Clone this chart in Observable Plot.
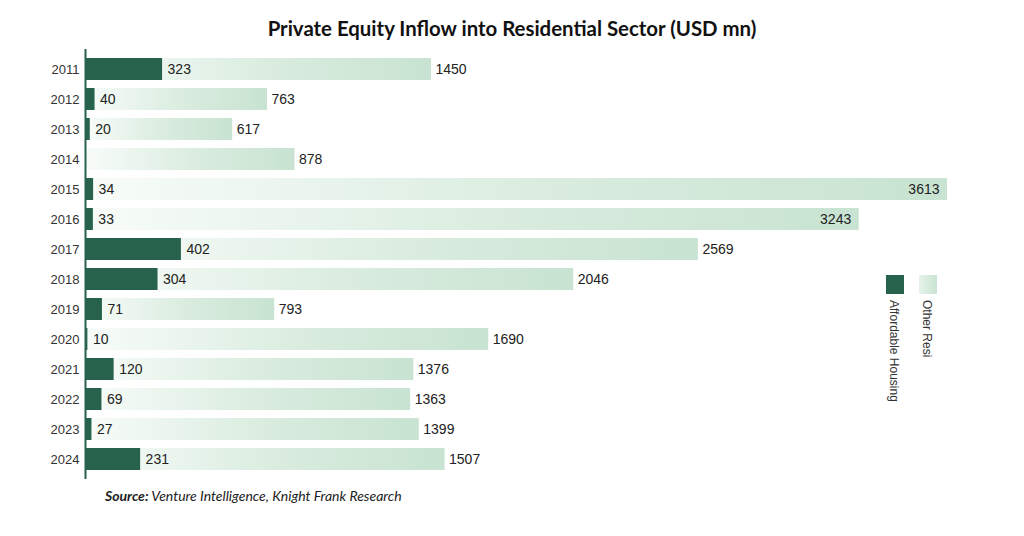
<!DOCTYPE html>
<html>
<head>
<meta charset="utf-8">
<script src="https://cdn.jsdelivr.net/npm/d3@7"></script>
<script src="https://cdn.jsdelivr.net/npm/@observablehq/plot@0.6"></script>
<style>
  html, body { margin: 0; padding: 0; background: #fff; }
  #wrap { position: relative; width: 1024px; height: 536px; overflow: hidden; }
  #title { position: absolute; left: 0; top: 16px; width: 1024px; text-align: center;
    font-family: "Lato", sans-serif; font-weight: bold; font-size: 20.4px; color: #111; }
  #chart { position: absolute; left: 0; top: 40px; }
  #source { position: absolute; left: 105px; top: 487px; font-family: "Lato", sans-serif;
    font-style: italic; font-size: 14px; color: #222; }
  .sw { position: absolute; width: 18px; height: 19px; }
  .lt { position: absolute; writing-mode: vertical-rl; font-family: "Liberation Sans", sans-serif;
    font-size: 12px; color: #333; }
</style>
</head>
<body>
<div id="wrap">
  <div id="title">Private Equity Inflow into Residential Sector (USD mn)</div>
  <div id="chart"></div>
  <div class="sw" style="left:886px; top:275px; background:#26624c;"></div>
  <div class="sw" style="left:919px; top:275px; background:linear-gradient(90deg,#e6f2ea,#c9e4d2);"></div>
  <div class="lt" style="left:887px; top:300px;">Affordable Housing</div>
  <div class="lt" style="left:920px; top:300px;">Other Resi</div>
  <div id="source"><b>Source:</b> Venture Intelligence, Knight Frank Research</div>
</div>
<script>
const years = ["2011","2012","2013","2014","2015","2016","2017","2018","2019","2020","2021","2022","2023","2024"];
const affordable = [323, 40, 20, 0, 34, 33, 402, 304, 71, 10, 120, 69, 27, 231];
const otherResi = [1450, 763, 617, 878, 3613, 3243, 2569, 2046, 793, 1690, 1376, 1363, 1399, 1507];

const rows = years.map((y, i) => ({year: y, a: affordable[i], o: otherResi[i]}));
const withA = rows.filter(d => d.a > 0);
const darkGreen = "#26624c";

const svg = Plot.plot({
  width: 1024,
  height: 450,
  marginLeft: 85,
  marginRight: 77,
  marginTop: 9,
  marginBottom: 11,
  style: {fontFamily: "Liberation Sans, sans-serif", fontSize: "13px", color: "#333"},
  x: {domain: [0, 3613], axis: null},
  y: {domain: years, padding: 0.27, label: null, tickSize: 0, tickPadding: 6},
  marks: [
    Plot.barX(rows, {y: "year", x: "o", fill: "url(#otherGrad)"}),
    Plot.barX(withA, {y: "year", x: "a", fill: darkGreen}),
    Plot.ruleX([0], {stroke: darkGreen, strokeWidth: 2}),
    Plot.text(withA, {y: "year", x: "a", text: d => String(d.a), textAnchor: "start", dx: 5, fill: "#222", fontSize: 14}),
    Plot.text(rows.filter(d => d.o < 3000), {y: "year", x: "o", text: d => String(d.o), textAnchor: "start", dx: 4, fill: "#222", fontSize: 14}),
    Plot.text(rows.filter(d => d.o >= 3000), {y: "year", x: "o", text: d => String(d.o), textAnchor: "end", dx: -8, fill: "#222", fontSize: 14})
  ]
});

const defs = d3.select(svg).insert("defs", ":first-child");
const g = defs.append("linearGradient").attr("id", "otherGrad").attr("x1", "0").attr("x2", "1").attr("y1", "0").attr("y2", "0");
g.append("stop").attr("offset", "0%").attr("stop-color", "#f8fcf9");
g.append("stop").attr("offset", "55%").attr("stop-color", "#d9ecdf");
g.append("stop").attr("offset", "100%").attr("stop-color", "#c8e3d1");

document.getElementById("chart").appendChild(svg);
</script>
</body>
</html>
